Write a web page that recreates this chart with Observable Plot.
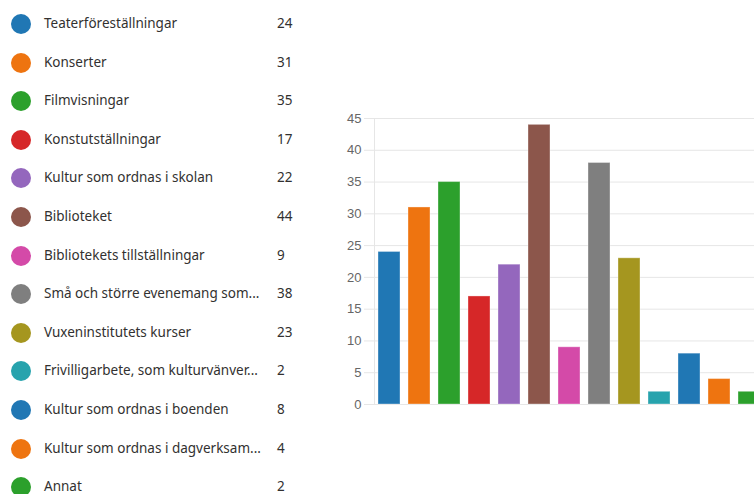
<!DOCTYPE html>
<html>
<head>
<meta charset="utf-8">
<script src="https://cdn.jsdelivr.net/npm/d3@7"></script>
<script src="https://cdn.jsdelivr.net/npm/@observablehq/plot@0.6"></script>
<style>
  html, body { margin: 0; padding: 0; background: #fff; overflow: hidden; width: 754px; height: 494px; }
  #wrap { position: relative; width: 754px; height: 494px; overflow: hidden; }
  .row { position: absolute; left: 0; height: 24px; font-family: "Noto Sans", "Open Sans", sans-serif; font-size: 13.5px; color: #323130; }
  .dot { position: absolute; left: 11px; top: 2px; width: 20px; height: 20px; border-radius: 50%; }
  .lab { position: absolute; left: 44px; top: 2px; white-space: nowrap; }
  .val { position: absolute; left: 277px; top: 2px; }
  #chart { position: absolute; left: 300px; top: 0; width: 500px; height: 434px; }
  #chart svg { max-width: none !important; width: 500px; height: 434px; }
</style>
</head>
<body>
<div id="wrap">
  <div id="legend"></div>
  <div id="chart"></div>
</div>
<script>
const categories = [
  "Teaterföreställningar",
  "Konserter",
  "Filmvisningar",
  "Konstutställningar",
  "Kultur som ordnas i skolan",
  "Biblioteket",
  "Bibliotekets tillställningar",
  "Små och större evenemang som...",
  "Vuxeninstitutets kurser",
  "Frivilligarbete, som kulturvänver...",
  "Kultur som ordnas i boenden",
  "Kultur som ordnas i dagverksam...",
  "Annat"
];
const values = [24, 31, 35, 17, 22, 44, 9, 38, 23, 2, 8, 4, 2];
const colors = ["#2077b4", "#ee7410", "#2ca02c", "#d62728", "#9467bd", "#8c564b", "#d44aa8", "#7f7f7f", "#a5961f", "#27a3ad", "#2077b4", "#ee7410", "#2ca02c"];
const yTicks = [0, 5, 10, 15, 20, 25, 30, 35, 40, 45];

const data = categories.map((c, i) => ({cat: c, val: values[i], color: colors[i]}));

// Legend
const legend = document.getElementById("legend");
data.forEach((d, i) => {
  const row = document.createElement("div");
  row.className = "row";
  row.style.top = (12 + i * 38.6) + "px";
  row.style.width = "300px";
  row.innerHTML = `<div class="dot" style="background:${d.color}"></div><div class="lab"></div><div class="val"></div>`;
  row.querySelector(".lab").textContent = d.cat;
  row.querySelector(".val").textContent = d.val;
  legend.appendChild(row);
});

// Chart
const chart = Plot.plot({
  width: 500,
  height: 434,
  marginLeft: 74,
  marginRight: 36,
  marginTop: 118,
  marginBottom: 30,
  style: {fontFamily: "'Liberation Sans', Arial, sans-serif", background: "transparent", overflow: "visible", maxWidth: "none"},
  x: {domain: categories, axis: null, paddingInner: 0.267, paddingOuter: 0.133},
  y: {domain: [0, 45], label: null},
  marks: [
    Plot.gridY(yTicks, {stroke: "#e6e6e6", strokeOpacity: 1}),
    Plot.axisY(yTicks, {tickSize: 10, tickPadding: 3, stroke: "#e6e6e6", strokeOpacity: 1, fill: "#666", fontSize: 13, label: null}),
    Plot.frame({anchor: "left", stroke: "#e6e6e6", strokeOpacity: 1}),
    Plot.barY(data, {x: "cat", y: "val", fill: "color", stroke: "#fff", strokeOpacity: 0.35})
  ]
});
document.getElementById("chart").appendChild(chart);
</script>
</body>
</html>
